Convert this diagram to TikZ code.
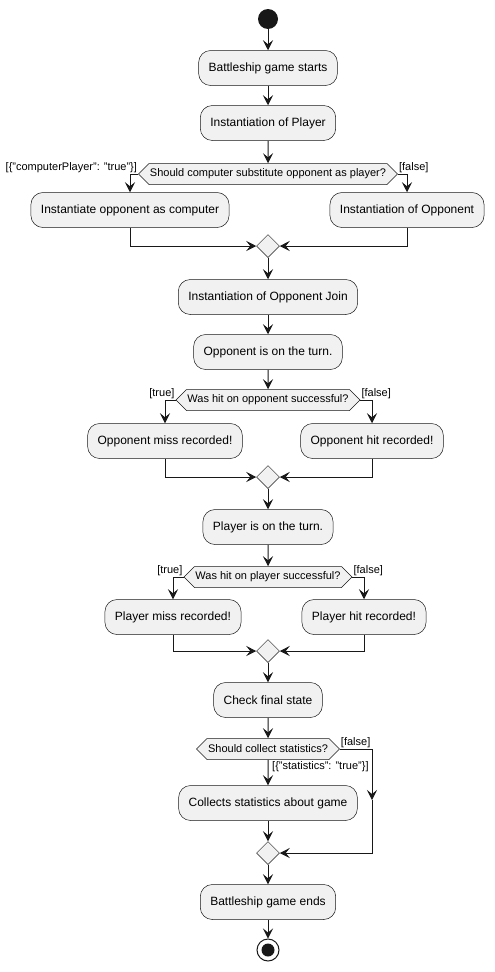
\documentclass[tikz,border=0pt]{standalone}
\usepackage{fontspec}
\setmainfont{Liberation Sans}
\usetikzlibrary{arrows.meta,shapes.symbols,shapes.geometric}
\definecolor{actfill}{HTML}{F1F1F1}
\definecolor{umlline}{HTML}{181818}
\begin{document}
\begin{tikzpicture}[x=1pt,y=-1pt,
  act/.style={rectangle,rounded corners=12pt,draw=umlline,line width=0.5pt,fill=actfill,minimum height=35pt,inner xsep=10pt,font=\fontsize{12}{14}\selectfont},
  cond/.style={signal,signal to=west and east,draw=umlline,line width=0.5pt,fill=actfill,minimum height=21pt,inner xsep=1pt,inner ysep=2pt,font=\fontsize{11}{13}\selectfont},
  merge/.style={diamond,draw=umlline,line width=0.5pt,fill=actfill,minimum width=23pt,minimum height=23pt,inner sep=0pt},
  start/.style={circle,fill=umlline,minimum size=20pt,inner sep=0pt},
  stop/.style={circle,draw=umlline,line width=1pt,minimum size=22pt,inner sep=0pt,path picture={\fill[umlline] (path picture bounding box.center) circle (6.5pt);}},
  guard/.style={font=\fontsize{11}{13}\selectfont,inner sep=1pt},
  flow/.style={-{Stealth[length=10pt,width=10pt,inset=4pt]},line width=1pt,draw=umlline}]
\useasboundingbox (0,0) rectangle (495,972);
\def\mx{268};
% main column
\node[start] (s) at (\mx,19) {};
\node[act] (a1) at (\mx,68) {Battleship game starts};
\node[act] (a2) at (\mx,123) {Instantiation of Player};
\node[cond] (c1) at (\mx,174) {Should computer substitute opponent as player?};
\node[act] (b1) at (130,210) {Instantiate opponent as computer};
\node[act] (b2) at (407,210) {Instantiation of Opponent};
\node[merge] (m1) at (\mx,246) {};
\node[act] (a3) at (\mx,297) {Instantiation of Opponent Join};
\node[act] (a4) at (\mx,352) {Opponent is on the turn.};
\node[cond] (c2) at (\mx,400) {Was hit on opponent successful?};
\node[act] (b3) at (165,441) {Opponent miss recorded!};
\node[act] (b4) at (372,441) {Opponent hit recorded!};
\node[merge] (m2) at (\mx,477) {};
\node[act] (a5) at (\mx,527) {Player is on the turn.};
\node[cond] (c3) at (\mx,577) {Was hit on player successful?};
\node[act] (b5) at (173,617) {Player miss recorded!};
\node[act] (b6) at (364,617) {Player hit recorded!};
\node[merge] (m3) at (\mx,651) {};
\node[act] (a6) at (\mx,700) {Check final state};
\node[cond] (c4) at (\mx,749) {Should collect statistics?};
\node[act] (b7) at (\mx,803) {Collects statistics about game};
\node[merge] (m4) at (\mx,853) {};
\node[act] (a7) at (\mx,902) {Battleship game ends};
\node[stop] (e) at (\mx,950) {};
% guards
\node[guard,anchor=south east] (g1) at (c1.west) {[\{"computerPlayer": "true"\}]};
\node[guard,anchor=south west] (g2) at (c1.east) {[false]};
\node[guard,anchor=south east] (g3) at (c2.west) {[true]};
\node[guard,anchor=south west] (g4) at (c2.east) {[false]};
\node[guard,anchor=south east] (g5) at (c3.west) {[true]};
\node[guard,anchor=south west] (g6) at (c3.east) {[false]};
\node[guard,anchor=south west] (g7) at (c4.east) {[false]};
\node[guard,anchor=north west] (g8) at ([xshift=3pt,yshift=-1pt]c4.south) {[\{"statistics": "true"\}]};
% flows
\draw[flow] (s) -- (a1);
\draw[flow] (a1) -- (a2);
\draw[flow] (a2) -- (c1);
\draw[flow] (c1.west) -| (b1);
\draw[flow] (c1.east) -| (b2);
\draw[flow] (b1) |- (m1);
\draw[flow] (b2) |- (m1);
\draw[flow] (m1) -- (a3);
\draw[flow] (a3) -- (a4);
\draw[flow] (a4) -- (c2);
\draw[flow] (c2.west) -| (b3);
\draw[flow] (c2.east) -| (b4);
\draw[flow] (b3) |- (m2);
\draw[flow] (b4) |- (m2);
\draw[flow] (m2) -- (a5);
\draw[flow] (a5) -- (c3);
\draw[flow] (c3.west) -| (b5);
\draw[flow] (c3.east) -| (b6);
\draw[flow] (b5) |- (m3);
\draw[flow] (b6) |- (m3);
\draw[flow] (m3) -- (a6);
\draw[flow] (a6) -- (c4);
\draw[flow] (c4) -- (b7);
\draw[flow] (b7) -- (m4);
\coordinate (sf) at (372,749);
\coordinate (sm) at (372,800);
\draw[flow] (c4.east) -- (sf) -- (sm);
\draw[flow] (sm) |- (m4);
\draw[flow] (a7) -- (e);
\draw[flow] (m4) -- (a7);
\end{tikzpicture}
\end{document}
